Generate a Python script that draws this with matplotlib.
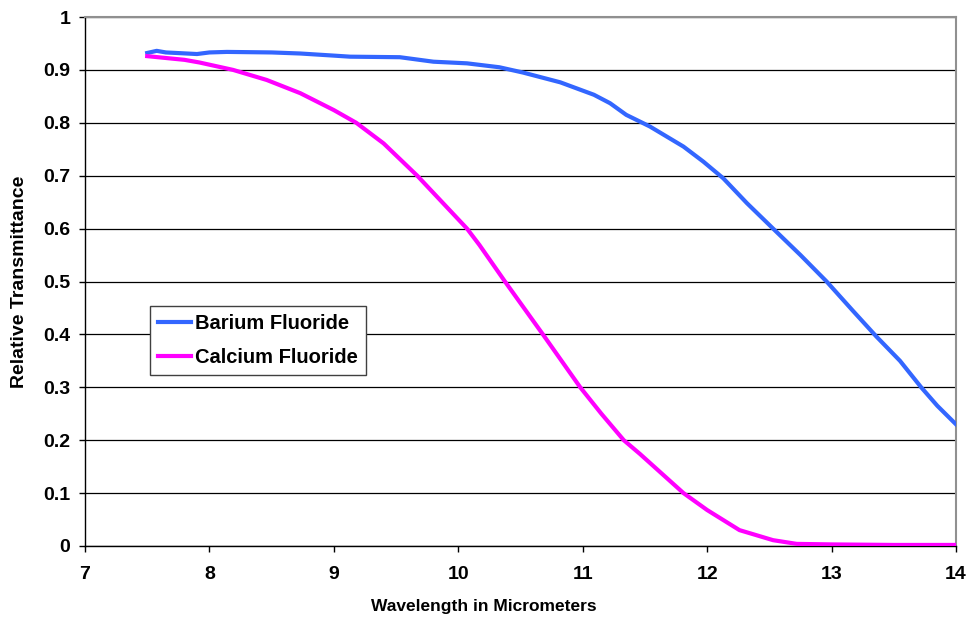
import matplotlib
matplotlib.use("Agg")
import matplotlib.pyplot as plt
import numpy as np

# Data
barium_x = [7.5, 7.576, 7.65, 7.9, 8.0, 8.14, 8.5, 8.73, 9.0, 9.13, 9.53, 9.8, 10.07,
            10.33, 10.52, 10.82, 11.09, 11.22, 11.35, 11.54, 11.81, 11.97,
            12.13, 12.32, 12.53, 12.75, 12.96, 13.17, 13.36, 13.55, 13.72, 13.85, 14.0]
barium_y = [0.932, 0.936, 0.933, 0.930, 0.933, 0.934, 0.933, 0.931, 0.927, 0.925,
            0.924, 0.9155, 0.9124, 0.905, 0.895, 0.8765, 0.853, 0.837, 0.815,
            0.793, 0.755, 0.7265, 0.695, 0.648, 0.600, 0.550, 0.500, 0.445, 0.396,
            0.350, 0.300, 0.265, 0.230]

calcium_x = [7.5, 7.8, 7.92, 8.19, 8.46, 8.73, 9.0, 9.18, 9.4, 9.67, 9.93, 10.07,
             10.17, 10.375, 10.68, 10.98, 11.15, 11.33, 11.46, 11.81, 12.0, 12.26,
             12.53, 12.72, 13.0, 13.5, 14.0]
calcium_y = [0.926, 0.919, 0.914, 0.900, 0.881, 0.856, 0.824, 0.800, 0.761, 0.700,
             0.635, 0.600, 0.569, 0.500, 0.400, 0.300, 0.250, 0.200, 0.174, 0.100,
             0.068, 0.030, 0.011, 0.004, 0.003, 0.002, 0.002]

x_ticks = [7, 8, 9, 10, 11, 12, 13, 14]
y_ticks = [0, 0.1, 0.2, 0.3, 0.4, 0.5, 0.6, 0.7, 0.8, 0.9, 1]
y_tick_labels = ["0", "0.1", "0.2", "0.3", "0.4", "0.5", "0.6", "0.7", "0.8", "0.9", "1"]
series_names = ["Barium Fluoride", "Calcium Fluoride"]

plt.rcParams['font.family'] = ['Liberation Sans', 'DejaVu Sans']
plt.rcParams['font.weight'] = 'bold'

fig = plt.figure(figsize=(9.68, 6.23), dpi=100)
W, H = 968, 623
L, R, T, B = 85, 956, 17, 546
ax = fig.add_axes([L / W, 1 - B / H, (R - L) / W, (B - T) / H])

ax.plot(barium_x, barium_y, color='#3366FF', lw=3.0, label=series_names[0],
        solid_joinstyle='round', zorder=3)
ax.plot(calcium_x, calcium_y, color='#FF00FF', lw=3.0, label=series_names[1],
        solid_joinstyle='round', zorder=3)

ax.set_xlim(7, 14)
ax.set_ylim(0, 1)
ax.set_xticks(x_ticks)
ax.set_xticklabels([str(v) for v in x_ticks])
ax.set_yticks(y_ticks)
ax.set_yticklabels(y_tick_labels)

ax.yaxis.grid(True, color='black', lw=0.9)
ax.set_axisbelow(True)

for s in ['top', 'right']:
    ax.spines[s].set_color('#909090')
    ax.spines[s].set_linewidth(1.5)
for s in ['left', 'bottom']:
    ax.spines[s].set_color('black')
    ax.spines[s].set_linewidth(1.0)

ax.tick_params(axis='both', direction='out', length=4.5, width=1, color='black',
               labelsize=14)
ax.tick_params(axis='x', pad=10)
ax.tick_params(axis='y', pad=6)
for lab in ax.get_xticklabels() + ax.get_yticklabels():
    lab.set_fontweight('bold')

fig.text(484 / W, 1 - 606 / H, "Wavelength in Micrometers", ha='center', va='center',
         fontsize=12.5, fontweight='bold')
fig.text(19.5 / W, 1 - 281.5 / H, "Relative Transmittance", ha='center', va='center',
         rotation=90, fontsize=14, fontweight='bold')

leg_x0, leg_y0 = 150, 375
leg = ax.legend(loc='lower left',
                bbox_to_anchor=(leg_x0 / W, 1 - leg_y0 / H),
                bbox_transform=fig.transFigure,
                prop={'size': 14.5, 'weight': 'bold'},
                frameon=True, fancybox=False, framealpha=1,
                edgecolor='#404040', handlelength=1.65, handletextpad=0.2,
                borderpad=0.4, labelspacing=0.75, borderaxespad=0)
leg.get_frame().set_linewidth(1.0)

fig.savefig("out.png", dpi=100)
